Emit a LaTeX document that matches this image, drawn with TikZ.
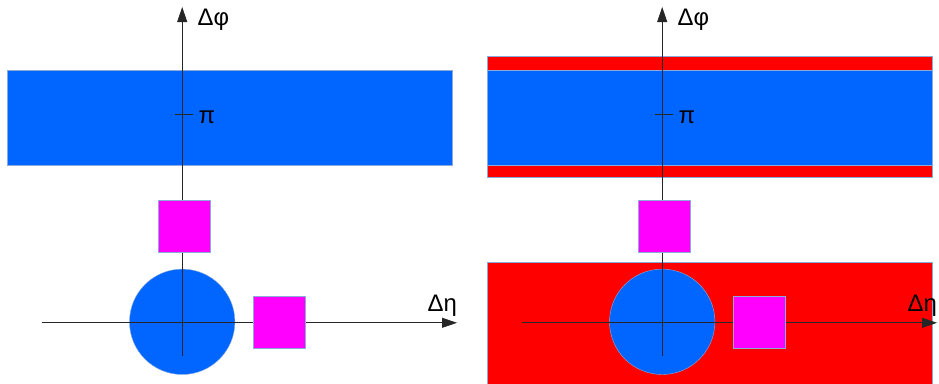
\documentclass[tikz,border=0pt]{standalone}
\usepackage{fontspec}
\setmainfont{Liberation Sans}
\usetikzlibrary{arrows.meta}
\definecolor{bandblue}{RGB}{0,102,255}
\definecolor{sqmag}{RGB}{255,0,255}
\definecolor{bandred}{RGB}{255,0,0}
\definecolor{edgeblue}{RGB}{140,170,215}
\tikzset{
  shapeedge/.style={draw=edgeblue, line width=0.4bp},
  axisline/.style={draw=black!85, line width=0.8bp},
  axisarrow/.style={axisline, -{Triangle[length=15bp,width=10bp]}},
  axislabel/.style={font=\fontsize{24}{28}\selectfont, inner sep=0pt, anchor=base west},
}
\newcommand{\panel}[2]{%
  \begin{scope}[xshift=#1]
    #2
    \fill[bandblue, shapeedge] (7,70) rectangle (452,165);
    \fill[bandblue, shapeedge] (182.2,321.8) circle (52.7);
    \draw[axisarrow] (182.2,356) -- (182.2,7);
    \draw[axisarrow] (42,322.8) -- (457,322.8);
    \draw[axisline] (175,114) -- (193,114);
    \fill[sqmag, shapeedge] (158,200) rectangle (210,252);
    \fill[sqmag, shapeedge] (253,296) rectangle (305,348);
    \node[axislabel] at (197.5,25) {Δφ};
    \node[axislabel] at (198.5,123.3) {π};
    \node[axislabel] at (427.5,311.7) {Δη};
  \end{scope}}
\begin{document}
\begin{tikzpicture}[x=1bp,y=-1bp]
  \useasboundingbox (0,0) rectangle (939,383);
  \fill[white] (0,0) rectangle (939,383);
  \panel{0bp}{}
  \panel{480bp}{%
    \fill[bandred, shapeedge] (7,56) rectangle (452,177);
    \fill[bandred, shapeedge] (7,262.3) rectangle (452,390);}
\end{tikzpicture}
\end{document}
